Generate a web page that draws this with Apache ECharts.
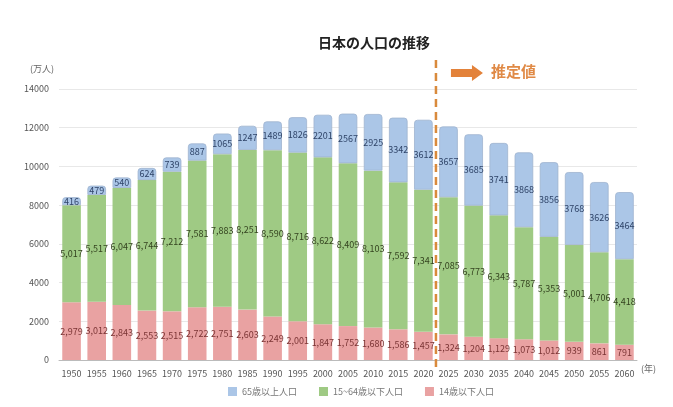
<!DOCTYPE html>
<html><head><meta charset="utf-8">
<script src="https://cdn.jsdelivr.net/npm/echarts@6/dist/echarts.min.js"></script>
<style>html,body{margin:0;padding:0;background:#fff}#c{width:673px;height:407px}</style>
</head><body><div id="c"></div>
<script>
const years = ['1950','1955','1960','1965','1970','1975','1980','1985','1990','1995','2000','2005','2010','2015','2020','2025','2030','2035','2040','2045','2050','2055','2060'];
const age0to14 = [2979,3012,2843,2553,2515,2722,2751,2603,2249,2001,1847,1752,1680,1586,1457,1324,1204,1129,1073,1012,939,861,791];
const age15to64 = [5017,5517,6047,6744,7212,7581,7883,8251,8590,8716,8622,8409,8103,7592,7341,7085,6773,6343,5787,5353,5001,4706,4418];
const age65plus = [416,479,540,624,739,887,1065,1247,1489,1826,2201,2567,2925,3342,3612,3657,3685,3741,3868,3856,3768,3626,3464];
const yTicks = [0,2000,4000,6000,8000,10000,12000,14000];
const seriesNames = ['65歳以上人口','15~64歳以下人口','14歳以下人口'];

const FONT = '"Noto Sans CJK JP","Noto Sans",sans-serif';
const chart = echarts.init(document.getElementById('c'));
const comma = p => p.value.toLocaleString('en-US');
chart.setOption({
  animation:false,
  textStyle:{fontFamily:FONT},
  title:{text:'日本の人口の推移',left:313,top:31,textStyle:{fontSize:14,fontWeight:'bold',color:'#222',fontFamily:FONT}},
  legend:{data:seriesNames,left:223,top:382,itemWidth:9,itemHeight:9,itemGap:22,icon:'rect',
    itemStyle:{borderWidth:0},
    textStyle:{fontSize:9,color:'#777',fontFamily:FONT}},
  grid:{left:59,right:36,top:89,bottom:47},
  xAxis:{type:'category',data:years,
    axisLine:{lineStyle:{color:'#bbb'}},axisTick:{show:false},
    axisLabel:{fontSize:9,color:'#555',margin:9,interval:0}},
  yAxis:{type:'value',min:yTicks[0],max:yTicks[yTicks.length-1],interval:2000,
    axisLine:{show:false},axisTick:{show:false},
    splitLine:{lineStyle:{color:'#e8e8e8'}},
    axisLabel:{fontSize:9,color:'#555',margin:10,formatter:v=>String(v)}},
  series:[
    {name:seriesNames[2],type:'bar',stack:'p',data:age0to14,barWidth:'74%',
     itemStyle:{color:'#e9a2a2'},
     label:{show:true,position:'inside',formatter:comma,fontSize:9,color:'#7a3434'}},
    {name:seriesNames[1],type:'bar',stack:'p',data:age15to64,
     itemStyle:{color:'#9fca84'},
     label:{show:true,position:'inside',formatter:comma,fontSize:9,color:'#34431f'}},
    {name:seriesNames[0],type:'bar',stack:'p',data:age65plus,
     itemStyle:{color:'#abc6e7',borderRadius:[3,3,0,0],borderColor:'#9fb4cf',borderWidth:0.8},
     label:{show:true,position:'inside',fontSize:9,color:'#2f4468'}}
  ]
});
// annotation: boundary between actual and estimated values
const x1 = chart.convertToPixel({xAxisIndex:0}, '2020');
const x2 = chart.convertToPixel({xAxisIndex:0}, '2025');
const xb = (x1+x2)/2;
chart.setOption({graphic:[
  {type:'text',left:30,top:64,style:{text:'(万人)',fontSize:9,fill:'#666',fontFamily:FONT}},
  {type:'text',left:641,top:364,style:{text:'(年)',fontSize:9,fill:'#666',fontFamily:FONT}},
  {type:'line',shape:{x1:xb,y1:60,x2:xb,y2:370},style:{stroke:'#d98a3c',lineWidth:2.5,lineDash:[8,5]},z:10},
  {type:'polygon',shape:{points:[[xb+15,69],[xb+36,69],[xb+36,65],[xb+47,73],[xb+36,81],[xb+36,77],[xb+15,77]]},style:{fill:'#e3823a'},z:10},
  {type:'text',left:xb+55,top:64,style:{text:'推定値',fontSize:15,fontWeight:'bold',fill:'#e08a46',fontFamily:FONT},z:10}
]});
</script></body></html>
